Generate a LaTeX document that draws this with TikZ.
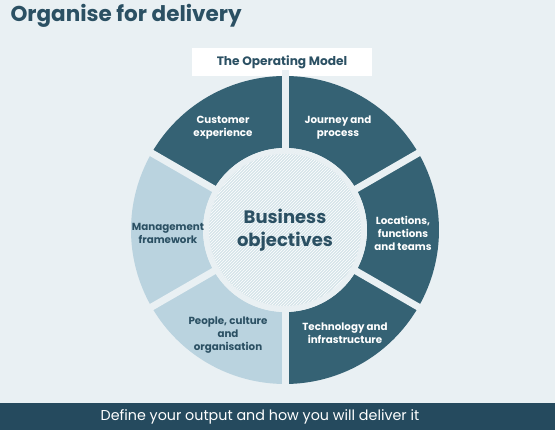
\documentclass[tikz,border=0pt]{standalone}
\usepackage{fontspec}
\setmainfont{Poppins}
\usetikzlibrary{patterns}
\definecolor{pagebg}{HTML}{E9F0F3}
\definecolor{barblue}{HTML}{254A5E}
\definecolor{titleblue}{HTML}{2B5063}
\definecolor{darkseg}{HTML}{356274}
\definecolor{lightseg}{HTML}{BAD3DF}
\definecolor{hubfill}{HTML}{D6E4EA}

\begin{document}
\begin{tikzpicture}[x=1pt,y=1pt,
  seglabel/.style={font=\fontsize{10.3}{13}\selectfont\bfseries, align=center},
  onDark/.style={seglabel, text=white},
  onLight/.style={seglabel, text=titleblue}]
  \useasboundingbox (0,0) rectangle (555,430);
  \fill[pagebg] (0,0) rectangle (555,430);

  % Title and bottom bar
  \node[anchor=base west, text=titleblue, font=\fontsize{21.5}{26}\selectfont\bfseries] (title) at (7,408) {Organise for delivery};
  \fill[barblue] (0,0) rectangle (555,27);
  \node[text=white, font=\fontsize{14.3}{17}\selectfont] (tagline) at (260,13) {Define your output and how you will deliver it};

  % Heading box
  \node[fill=white, minimum width=180, minimum height=28, text=titleblue, font=\fontsize{12.2}{14}\selectfont\bfseries] (model) at (282,368) {The Operating Model};

  \begin{scope}[shift={(285,200)}]
    % Draw wheel segments
    \foreach \a/\col in {30/darkseg, 90/darkseg, 150/lightseg, 210/lightseg, 270/darkseg, 330/darkseg} {
      \fill[\col] (\a:82) -- (\a:154) arc[start angle=\a, end angle=\a+60, radius=154] -- (\a+60:82) arc[start angle=\a+60, end angle=\a, radius=82] -- cycle;
    }
    % Draw gaps
    \foreach \a in {30,90,...,330} {
      \draw[pagebg, line width=7pt] (0,0) -- (\a:160);
    }
    % Draw hub
    \fill[pagebg] (0,0) circle (82);
    \path[fill=hubfill, postaction={pattern=north east lines, pattern color=white}] (0,0) circle (76);
    \node[text=titleblue, align=center, font=\fontsize{18}{23}\selectfont\bfseries] (hub) at (0,0) {Business\\objectives};

    % Labels
    \node[onDark] (customer) at (-62,102) {Customer\\experience};
    \node[onDark] (journey) at (53,102) {Journey and\\process};
    \node[onDark] (locations) at (118,-3) {Locations,\\functions\\and teams};
    \node[onDark] (technology) at (60,-103) {Technology and\\infrastructure};
    \node[onLight] (people) at (-57,-105) {People, culture\\and\\organisation};
    \node[onLight] (management) at (-117,-3) {Management\\framework};
  \end{scope}
\end{tikzpicture}
\end{document}
